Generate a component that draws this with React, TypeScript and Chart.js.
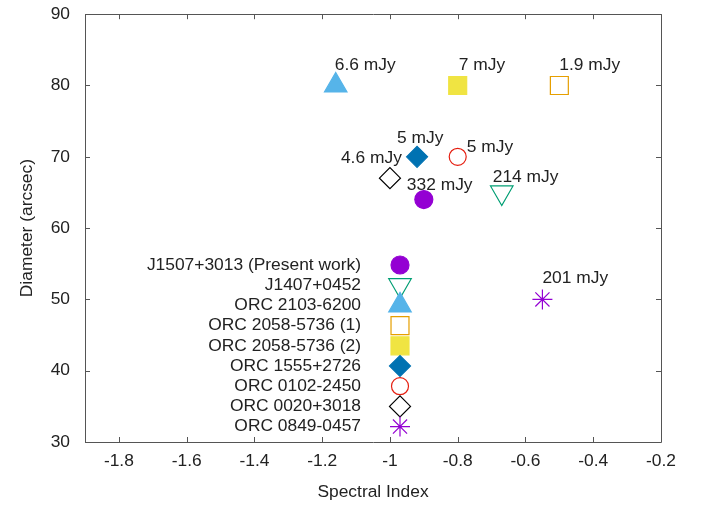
import React, { useEffect, useRef } from 'react';
import { Chart, registerables } from 'chart.js';
import { drawPoint } from 'chart.js/helpers';

Chart.register(...registerables);

// ---- data ----
const SERIES_NAMES = [
  'J1507+3013 (Present work)',
  'J1407+0452',
  'ORC 2103-6200',
  'ORC 2058-5736 (1)',
  'ORC 2058-5736 (2)',
  'ORC 1555+2726',
  'ORC 0102-2450',
  'ORC 0020+3018',
  'ORC 0849-0457',
];
const SPECTRAL_INDEX = [-0.9, -0.67, -1.16, -0.5, -0.8, -0.92, -0.8, -1.0, -0.55];
const DIAMETER = [64, 65, 80, 80, 80, 70, 70, 67, 50];
const FLUX_LABELS = ['332 mJy', '214 mJy', '6.6 mJy', '1.9 mJy', '7 mJy', '5 mJy', '5 mJy', '4.6 mJy', '201 mJy'];
const X_TICKS = [-1.8, -1.6, -1.4, -1.2, -1.0, -0.8, -0.6, -0.4, -0.2];
const Y_TICKS = [30, 40, 50, 60, 70, 80, 90];

// ---- styles ----
const MARKERS = [
  { style: 'circle', radius: 9, fill: true, color: '#9400d3', rotation: 0 },
  { style: 'triangle', radius: 13, fill: false, color: '#009e73', rotation: 180 },
  { style: 'triangle', radius: 13, fill: true, color: '#56b4e9', rotation: 0 },
  { style: 'rect', radius: 12.7, fill: false, color: '#e69f00', rotation: 0 },
  { style: 'rect', radius: 12.7, fill: true, color: '#f0e442', rotation: 0 },
  { style: 'rectRot', radius: 10.5, fill: true, color: '#0072b2', rotation: 0 },
  { style: 'circle', radius: 8.5, fill: false, color: '#e51e10', rotation: 0 },
  { style: 'rectRot', radius: 10.5, fill: false, color: '#000000', rotation: 0 },
  { style: 'star', radius: 10, fill: false, color: '#9400d3', rotation: 0 },
];
// label offsets in px: dx to the left edge of the text, dy to its middle
const LABEL_OFFSETS = [
  [-17, -14],
  [-9, -15],
  [-1, -20.5],
  [0, -20.5],
  [1, -20.5],
  [-20, -19],
  [9, -10],
  [-49, -19.5],
  [0, -21],
];

const FONT_FAMILY = '"Liberation Sans", Arial, sans-serif';
const FONT_SIZE = 17.4;
const TEXT_COLOR = '#222';
const BORDER_COLOR = '#555';

const framePlugin = {
  id: 'frame',
  afterDraw(chart: any) {
    const { ctx, chartArea } = chart;
    const { left, right, top, bottom } = chartArea;
    const xs = chart.scales.x;
    const ys = chart.scales.y;
    ctx.save();
    ctx.strokeStyle = BORDER_COLOR;
    ctx.lineWidth = 1;
    ctx.beginPath();
    ctx.rect(Math.round(left) + 0.5, Math.round(top) + 0.5, Math.round(right - left), Math.round(bottom - top));
    const tl = 5;
    xs.ticks.forEach((t: any) => {
      const px = Math.round(xs.getPixelForValue(t.value)) + 0.5;
      ctx.moveTo(px, bottom);
      ctx.lineTo(px, bottom - tl);
      ctx.moveTo(px, top);
      ctx.lineTo(px, top + tl);
    });
    ys.ticks.forEach((t: any) => {
      const py = Math.round(ys.getPixelForValue(t.value)) + 0.5;
      ctx.moveTo(left, py);
      ctx.lineTo(left + tl, py);
      ctx.moveTo(right, py);
      ctx.lineTo(right - tl, py);
    });
    ctx.stroke();
    ctx.restore();
  },
};

const labelsPlugin = {
  id: 'pointLabels',
  afterDatasetsDraw(chart: any) {
    const { ctx } = chart;
    const xs = chart.scales.x;
    const ys = chart.scales.y;
    ctx.save();
    ctx.font = `${FONT_SIZE}px ${FONT_FAMILY}`;
    ctx.fillStyle = TEXT_COLOR;
    ctx.textAlign = 'left';
    ctx.textBaseline = 'middle';
    FLUX_LABELS.forEach((txt, i) => {
      const px = xs.getPixelForValue(SPECTRAL_INDEX[i]);
      const py = ys.getPixelForValue(DIAMETER[i]);
      ctx.fillText(txt, px + LABEL_OFFSETS[i][0], py + LABEL_OFFSETS[i][1]);
    });
    ctx.restore();
  },
};

const keyPlugin = {
  id: 'keyBox',
  afterDraw(chart: any) {
    const { ctx } = chart;
    const textRight = 361;
    const markX = 400;
    const y0 = 265;
    const step = 20.2;
    ctx.save();
    ctx.font = `${FONT_SIZE}px ${FONT_FAMILY}`;
    ctx.textAlign = 'right';
    ctx.textBaseline = 'middle';
    SERIES_NAMES.forEach((name, i) => {
      const y = y0 + i * step;
      ctx.fillStyle = TEXT_COLOR;
      ctx.fillText(name, textRight, y);
      const m = MARKERS[i];
      ctx.fillStyle = m.fill ? m.color : 'rgba(0,0,0,0)';
      ctx.strokeStyle = m.color;
      ctx.lineWidth = 1.2;
      drawPoint(ctx, { pointStyle: m.style as any, radius: m.radius, rotation: m.rotation, borderWidth: 1.2 } as any, markX, y);
    });
    ctx.restore();
  },
};

export default function App() {
  const ref = useRef<HTMLCanvasElement>(null);
  useEffect(() => {
    document.body.style.margin = '0';
    const canvas = ref.current!;
    const datasets = SERIES_NAMES.map((name, i) => {
      const m = MARKERS[i];
      return {
        label: name,
        data: [{ x: SPECTRAL_INDEX[i], y: DIAMETER[i] }],
        pointStyle: m.style,
        pointRadius: m.radius,
        pointHoverRadius: m.radius,
        pointRotation: m.rotation,
        pointBackgroundColor: m.fill ? m.color : 'rgba(0,0,0,0)',
        pointBorderColor: m.color,
        pointBorderWidth: 1.2,
        showLine: false,
      };
    });
    const chart = new Chart(canvas, {
      type: 'scatter',
      data: { datasets: datasets as any },
      options: {
        animation: false,
        responsive: false,
        devicePixelRatio: 1,
        layout: { padding: { left: 0, right: 43, top: 12, bottom: 0 } },
        plugins: { legend: { display: false }, tooltip: { enabled: false } },
        scales: {
          x: {
            type: 'linear',
            min: -1.9,
            max: -0.2,
            afterBuildTicks: (s: any) => {
              s.ticks = X_TICKS.map((v) => ({ value: v }));
            },
            afterFit: (s: any) => {
              s.height = 63;
              s.paddingLeft = 0;
              s.paddingRight = 0;
            },
            grid: { display: false, drawTicks: false },
            border: { display: false },
            ticks: {
              padding: 9,
              color: TEXT_COLOR,
              font: { family: FONT_FAMILY, size: FONT_SIZE },
              maxRotation: 0,
              autoSkip: false,
              callback: (v: any) => String(Number(Number(v).toFixed(1))),
            },
            title: {
              display: true,
              text: 'Spectral Index',
              color: TEXT_COLOR,
              font: { family: FONT_FAMILY, size: FONT_SIZE },
              padding: { top: 2, bottom: 2 },
            },
          },
          y: {
            type: 'linear',
            min: 30,
            max: 90,
            afterBuildTicks: (s: any) => {
              s.ticks = Y_TICKS.map((v) => ({ value: v }));
            },
            afterFit: (s: any) => {
              s.width = 85;
              s.paddingTop = 0;
              s.paddingBottom = 0;
            },
            grid: { display: false, drawTicks: false },
            border: { display: false },
            ticks: {
              padding: 15,
              color: TEXT_COLOR,
              font: { family: FONT_FAMILY, size: FONT_SIZE },
              autoSkip: false,
              callback: (v: any) => String(v),
            },
            title: {
              display: true,
              text: 'Diameter (arcsec)',
              color: TEXT_COLOR,
              font: { family: FONT_FAMILY, size: FONT_SIZE },
              padding: { top: 17, bottom: 17 },
            },
          },
        },
      },
      plugins: [framePlugin, labelsPlugin, keyPlugin],
    });
    return () => chart.destroy();
  }, []);
  return (
    <div style={{ position: 'absolute', left: 0, top: 0, width: 704, height: 505 }}>
      <canvas ref={ref} width={704} height={505} style={{ width: 704, height: 505, display: 'block' }} />
    </div>
  );
}
